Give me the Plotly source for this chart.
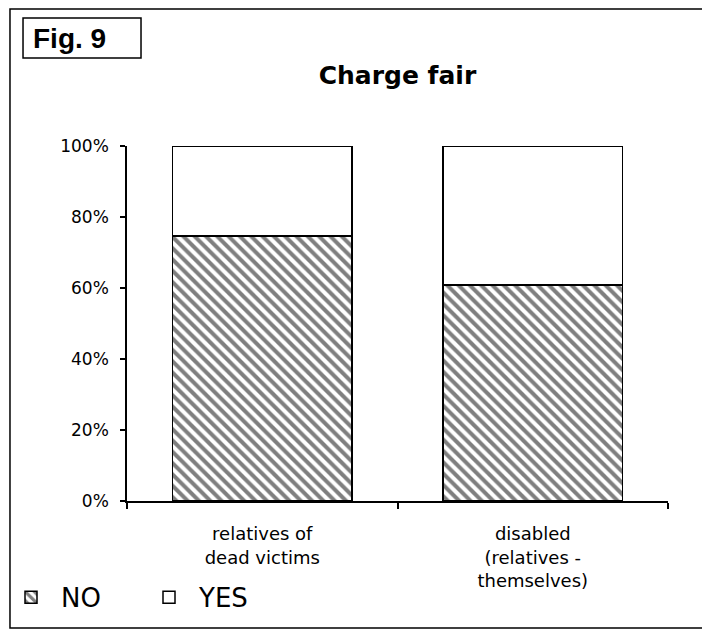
import plotly.graph_objects as go

categories = ["relatives of<br>dead victims", "disabled<br>(relatives -<br>themselves)"]
no_share = [74.6, 60.9]
yes_share = [25.4, 39.1]
y_ticks = [0, 20, 40, 60, 80, 100]
y_labels = ["0%", "20%", "40%", "60%", "80%", "100%"]

FONT = "DejaVu Sans, Verdana, sans-serif"

# the page body has an 8px margin, so the figure is drawn 8px smaller
W, H = 702, 621

no_bar = go.Bar(
    name="NO",
    x=categories,
    y=no_share,
    width=0.665,
    marker=dict(
        color="white",
        line=dict(color="black", width=1.5),
        pattern=dict(shape="\\", fgcolor="black", bgcolor="white", size=8, solidity=0.5),
    ),
)

yes_bar = go.Bar(
    name="YES",
    x=categories,
    y=yes_share,
    width=0.665,
    marker=dict(color="white", line=dict(color="black", width=1.5)),
)

fig = go.Figure(data=[no_bar, yes_bar])

fig.update_layout(
    width=W,
    height=H,
    barmode="stack",
    paper_bgcolor="white",
    plot_bgcolor="white",
    margin=dict(l=119, r=42, t=138, b=128, autoexpand=False),
    font=dict(family=FONT, size=17, color="black"),
    title=dict(
        text="<b>Charge fair</b>",
        x=0.5,
        xref="paper",
        xanchor="center",
        y=(H - 67) / H,
        yanchor="middle",
        font=dict(size=25, family=FONT),
    ),
    showlegend=True,
    legend=dict(
        orientation="h",
        x=-0.2329,
        xanchor="left",
        y=-0.2054,
        yanchor="top",
        font=dict(size=26, family=FONT),
        itemwidth=50,
        entrywidth=73,
        traceorder="normal",
        bgcolor="rgba(0,0,0,0)",
    ),
)

fig.update_xaxes(
    showline=True,
    linecolor="black",
    linewidth=1.5,
    ticks="outside",
    tickson="boundaries",
    ticklen=6,
    tickcolor="black",
    tickwidth=1.5,
    showgrid=False,
    ticklabelstandoff=16,
    tickfont=dict(size=18),
)

fig.update_yaxes(
    range=[0, 100],
    tickvals=y_ticks,
    ticktext=y_labels,
    showline=True,
    linecolor="black",
    linewidth=1.5,
    ticks="outside",
    ticklen=5,
    tickcolor="black",
    tickwidth=1.5,
    showgrid=False,
    zeroline=False,
    ticklabelstandoff=8,
    tickfont=dict(size=17),
)

# outer frame of the figure
fig.add_shape(
    type="rect", xref="paper", yref="paper",
    x0=-0.2163, x1=1.0702, y0=-0.3577, y1=1.386,
    line=dict(color="black", width=1.5),
)

# "Fig. 9" label box
fig.add_shape(
    type="rect", xref="paper", yref="paper",
    x0=-0.1922, x1=0.0259, y0=1.2479, y1=1.3606,
    line=dict(color="black", width=1.5),
)
fig.add_annotation(
    text="<b>Fig. 9</b>",
    xref="paper", yref="paper",
    x=-0.1775, y=1.3042,
    xanchor="left", yanchor="middle",
    showarrow=False,
    font=dict(size=28, family="Liberation Sans, Arial, sans-serif"),
)

fig.write_html("out.html")
